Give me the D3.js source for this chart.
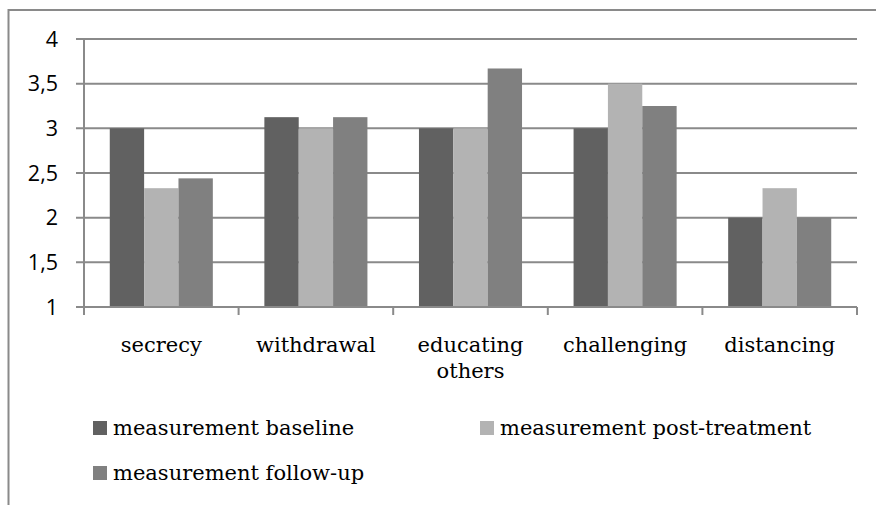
<!DOCTYPE html>
<html>
<head>
<meta charset="utf-8">
<script src="https://cdn.jsdelivr.net/npm/d3@7"></script>
<style>
  html, body { margin: 0; padding: 0; background: #ffffff; }
  svg { display: block; }
</style>
</head>
<body>
<script>
// Coping strategies measured at three points in time
const categories = [["secrecy"], ["withdrawal"], ["educating", "others"], ["challenging"], ["distancing"]];
const seriesNames = ["measurement baseline", "measurement post-treatment", "measurement follow-up"];
const baseline      = [3, 3.125, 3, 3, 2];
const postTreatment = [2.33, 3, 3, 3.5, 2.33];
const followUp      = [2.44, 3.125, 3.67, 3.25, 2];
const yTicks = [1, 1.5, 2, 2.5, 3, 3.5, 4];
const colors = ["#616161", "#b3b3b3", "#808080"];

const W = 876, H = 505;
const plot = { left: 84, right: 857, top: 39, bottom: 307 };
const gridColor = "#8a8a8a";
const serif = "'DejaVu Serif', serif";
const sans = "'Open Sans', 'Liberation Sans', sans-serif";

const svg = d3.select("body").append("svg").attr("width", W).attr("height", H);

// outer chart frame
svg.append("rect")
  .attr("x", 8.5).attr("y", 10).attr("width", 1000).attr("height", 1000)
  .attr("fill", "none").attr("stroke", gridColor).attr("stroke-width", 2);

const catKeys = categories.map(c => c.join(" "));
const x0 = d3.scaleBand().domain(catKeys).range([plot.left, plot.right]).paddingInner(0).paddingOuter(0);
const barW = x0.bandwidth() / 4.5;
const x1 = d3.scaleBand().domain(d3.range(3)).range([0, barW * 3]);
const y = d3.scaleLinear().domain([1, 4]).range([plot.bottom, plot.top]);

// horizontal gridlines with left tick stubs
svg.append("g").selectAll("line").data(yTicks).join("line")
  .attr("x1", plot.left - 8).attr("x2", plot.right)
  .attr("y1", d => y(d)).attr("y2", d => y(d))
  .attr("stroke", gridColor).attr("stroke-width", 2);

// y axis labels
svg.append("g").selectAll("text").data(yTicks).join("text")
  .attr("x", 58).attr("y", d => y(d)).attr("dy", "0.36em")
  .attr("text-anchor", "end")
  .attr("font-family", sans).attr("font-size", 21.5).attr("fill", "#000")
  .text(d => String(d).replace(".", ","));

const series = [baseline, postTreatment, followUp];
const bars = svg.append("g");
catKeys.forEach((key, ci) => {
  const gx = x0(key) + (x0.bandwidth() - barW * 3) / 2;
  bars.selectAll(null).data(series.map((s, si) => ({ si, v: s[ci] }))).join("rect")
    .attr("x", d => gx + x1(d.si))
    .attr("width", x1.bandwidth())
    .attr("y", d => y(d.v))
    .attr("height", d => y(1) - y(d.v))
    .attr("fill", d => colors[d.si]);
});

// axis lines
svg.append("line")
  .attr("x1", plot.left).attr("x2", plot.left)
  .attr("y1", plot.top).attr("y2", plot.bottom)
  .attr("stroke", gridColor).attr("stroke-width", 2);
svg.append("line")
  .attr("x1", plot.left).attr("x2", plot.right)
  .attr("y1", plot.bottom).attr("y2", plot.bottom)
  .attr("stroke", gridColor).attr("stroke-width", 2);

// category boundary ticks
const bounds = catKeys.map(k => x0(k)).concat([plot.right]);
svg.append("g").selectAll("line").data(bounds).join("line")
  .attr("x1", d => d).attr("x2", d => d)
  .attr("y1", plot.bottom).attr("y2", plot.bottom + 8)
  .attr("stroke", gridColor).attr("stroke-width", 2);

// category labels
const catG = svg.append("g");
categories.forEach((lines, i) => {
  const t = catG.append("text")
    .attr("x", x0(catKeys[i]) + x0.bandwidth() / 2)
    .attr("y", 352)
    .attr("text-anchor", "middle")
    .attr("font-family", serif).attr("font-size", 21).attr("fill", "#000");
  lines.forEach((ln, li) => {
    t.append("tspan").attr("x", x0(catKeys[i]) + x0.bandwidth() / 2)
      .attr("dy", li === 0 ? 0 : 26).text(ln);
  });
});

// legend
const legendPos = [[93, 428], [480, 428], [93, 473]];
const leg = svg.append("g");
seriesNames.forEach((name, i) => {
  const [lx, ly] = legendPos[i];
  leg.append("rect").attr("x", lx).attr("y", ly - 7).attr("width", 14).attr("height", 14)
    .attr("fill", colors[i]);
  leg.append("text").attr("x", lx + 20).attr("y", ly).attr("dy", "0.35em")
    .attr("font-family", serif).attr("font-size", 21).attr("fill", "#000")
    .text(name);
});
</script>
</body>
</html>
